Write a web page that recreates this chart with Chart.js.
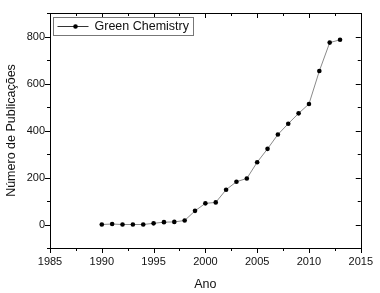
<!DOCTYPE html>
<html>
<head>
<meta charset="utf-8">
<script src="https://cdn.jsdelivr.net/npm/chart.js@4"></script>
<style>
  html, body { margin: 0; padding: 0; background: #fff; }
  #wrap { width: 380px; height: 293px; }
</style>
</head>
<body>
<div id="wrap"><canvas id="chart"></canvas></div>
<script>
// data
const years = [1990, 1991, 1992, 1993, 1994, 1995, 1996, 1997, 1998, 1999, 2000, 2001,
               2002, 2003, 2004, 2005, 2006, 2007, 2008, 2009, 2010, 2011, 2012, 2013];
const publicacoes = [0, 2, 0, 0, 0, 5, 10, 11, 17, 58, 90, 94,
                     148, 182, 196, 265, 322, 383, 429, 473, 513, 653, 774, 786];
const seriesLabel = 'Green Chemistry';

const FONT = "'Liberation Sans', Arial, sans-serif";

// frame, mirrored ticks (out on left/bottom, in on top/right) and inset legend
const framePlugin = {
    id: 'frame',
    afterDraw(chart) {
        const { ctx, chartArea: a, scales } = chart;
        const x = scales.x, y = scales.y;
        ctx.save();
        ctx.strokeStyle = '#000';
        ctx.lineWidth = 1;
        ctx.strokeRect(Math.round(a.left) + 0.5, Math.round(a.top) + 0.5,
                       Math.round(a.right - a.left), Math.round(a.bottom - a.top));
        ctx.beginPath();
        for (let v = x.min; v <= x.max + 0.01; v += 2.5) {
            const px = Math.round(x.getPixelForValue(v)) + 0.5;
            const len = (v % 5 === 0) ? 5 : 3;
            ctx.moveTo(px, a.bottom); ctx.lineTo(px, a.bottom + len);
            ctx.moveTo(px, a.top); ctx.lineTo(px, a.top + len);
        }
        for (let v = y.min; v <= y.max + 0.01; v += 100) {
            const py = Math.round(y.getPixelForValue(v)) + 0.5;
            const len = (v % 200 === 0) ? 5 : 3;
            ctx.moveTo(a.left, py); ctx.lineTo(a.left - len, py);
            ctx.moveTo(a.right, py); ctx.lineTo(a.right - len, py);
        }
        ctx.stroke();

        // legend box
        const lx = a.left + 3.5, ly = a.top + 4.5;
        ctx.strokeStyle = '#777';
        ctx.strokeRect(lx, ly, 140, 18);
        ctx.strokeStyle = '#333';
        ctx.beginPath();
        ctx.moveTo(lx + 4, ly + 9); ctx.lineTo(lx + 35, ly + 9);
        ctx.stroke();
        ctx.fillStyle = '#000';
        ctx.beginPath();
        ctx.arc(lx + 22, ly + 9, 2.3, 0, Math.PI * 2);
        ctx.fill();
        ctx.font = '12.5px ' + FONT;
        ctx.textBaseline = 'middle';
        ctx.fillStyle = '#111';
        ctx.fillText(chart.data.datasets[0].label, lx + 41, ly + 9.5);
        ctx.restore();
    }
};

new Chart(document.getElementById('chart'), {
    type: 'line',
    data: {
        datasets: [{
            label: seriesLabel,
            data: years.map((yr, i) => ({ x: yr, y: publicacoes[i] })),
            borderColor: '#8a8a8a',
            borderWidth: 1,
            pointRadius: 2.3,
            pointBackgroundColor: '#000',
            pointBorderColor: '#000',
            pointBorderWidth: 0,
            tension: 0
        }]
    },
    options: {
        responsive: true,
        maintainAspectRatio: false,
        animation: false,
        layout: { padding: { top: 13, right: 17, left: 0, bottom: 0 } },
        plugins: {
            legend: { display: false },
            tooltip: { enabled: false }
        },
        scales: {
            x: {
                type: 'linear',
                min: 1985,
                max: 2015,
                grid: { display: false, drawTicks: false },
                border: { display: false },
                ticks: {
                    stepSize: 2.5,
                    autoSkip: false,
                    maxRotation: 0,
                    padding: 7,
                    color: '#111',
                    font: { family: FONT, size: 11 },
                    callback: v => (v % 5 === 0 ? String(v) : '')
                },
                title: {
                    display: true,
                    text: 'Ano',
                    color: '#111',
                    font: { family: FONT, size: 12.5 },
                    padding: { top: 0, bottom: 1 }
                },
                afterFit: s => { s.height = 45; }
            },
            y: {
                min: -100,
                max: 900,
                grid: { display: false, drawTicks: false },
                border: { display: false },
                ticks: {
                    stepSize: 100,
                    autoSkip: false,
                    padding: 5,
                    color: '#111',
                    font: { family: FONT, size: 11 },
                    callback: v => (v % 200 === 0 && v >= 0 && v <= 800 ? String(v) : '')
                },
                title: {
                    display: true,
                    text: 'Número de Publicações',
                    color: '#111',
                    font: { family: FONT, size: 12.5 },
                    padding: { top: 4, bottom: 0 }
                },
                afterFit: s => { s.width = 50; }
            }
        }
    },
    plugins: [framePlugin]
});
</script>
</body>
</html>
